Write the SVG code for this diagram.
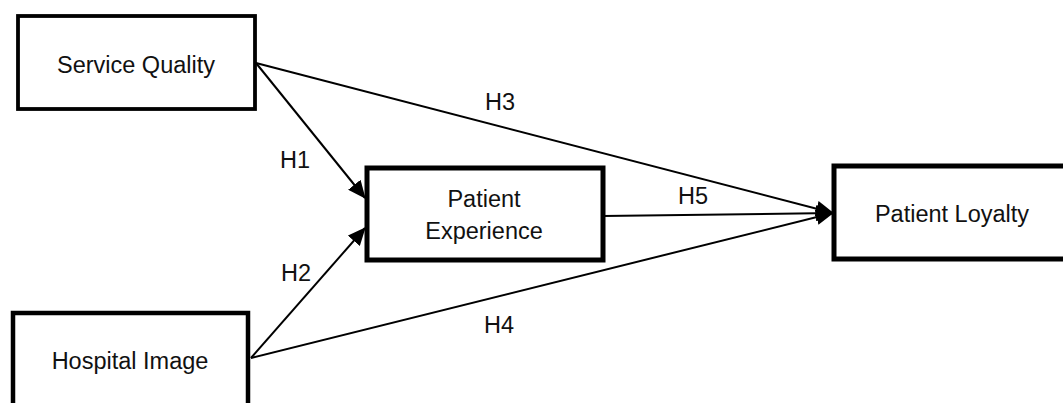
<svg xmlns="http://www.w3.org/2000/svg" width="1063" height="403" viewBox="0 0 1063 403">
<defs>
<style>
.box{fill:#fff;stroke:#000;stroke-width:4.5}
.t{font-family:"Liberation Sans",Arial,sans-serif;font-size:23.5px;fill:#111;text-anchor:middle}
.c{stroke:#000;stroke-width:2;fill:none}
</style>
<marker id="ah" markerUnits="userSpaceOnUse" markerWidth="18" markerHeight="16" viewBox="0 0 18 16" refX="17" refY="8" orient="auto">
<path d="M0,0 L18,8 L0,16 Z" fill="#000"/>
</marker>
</defs>
<g id="connectors">
<line class="c" x1="256" y1="63" x2="365" y2="198" marker-end="url(#ah)"/>
<line class="c" x1="251" y1="358" x2="365" y2="228" marker-end="url(#ah)"/>
<line class="c" x1="256" y1="63" x2="833" y2="213" marker-end="url(#ah)"/>
<line class="c" x1="251" y1="358" x2="833" y2="213" marker-end="url(#ah)"/>
<line class="c" x1="603" y1="216" x2="833" y2="213" marker-end="url(#ah)"/>
<text class="t" x="295" y="168">H1</text>
<text class="t" x="296" y="281">H2</text>
<text class="t" x="500" y="110">H3</text>
<text class="t" x="499" y="333">H4</text>
<text class="t" x="693" y="204">H5</text>
</g>
<g id="service-quality">
<rect class="box" x="18" y="16" width="237" height="93" style="stroke-width:3.8"/>
<text class="t" x="136" y="73">Service Quality</text>
</g>
<g id="patient-experience">
<rect class="box" x="367" y="168" width="236" height="92" style="stroke-width:5"/>
<text class="t" x="484" y="207">Patient</text>
<text class="t" x="484" y="239">Experience</text>
</g>
<g id="patient-loyalty">
<rect class="box" x="834" y="166" width="240" height="93" style="stroke-width:5"/>
<text class="t" x="952" y="222">Patient Loyalty</text>
</g>
<g id="hospital-image">
<rect class="box" x="13" y="313" width="235" height="100"/>
<text class="t" x="130" y="369">Hospital Image</text>
</g>
</svg>
